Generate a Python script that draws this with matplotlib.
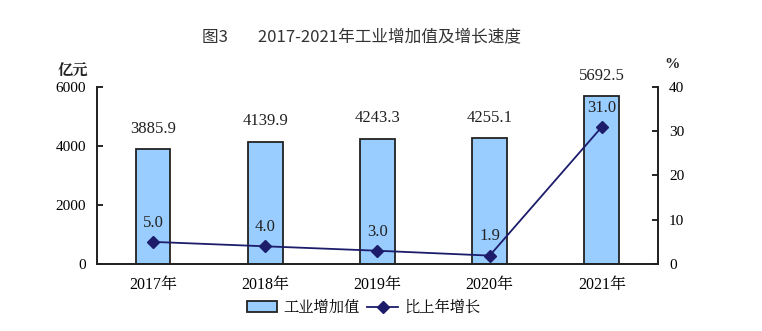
import matplotlib.pyplot as plt
from matplotlib.lines import Line2D
from matplotlib.patches import Patch

plt.rcParams['font.family'] = ['Liberation Serif', 'Noto Serif CJK SC', 'Noto Sans CJK SC', 'DejaVu Sans']

years = ["2017年", "2018年", "2019年", "2020年", "2021年"]
value_added = [3885.9, 4139.9, 4243.3, 4255.1, 5692.5]
growth = [5.0, 4.0, 3.0, 1.9, 31.0]

bar_color = "#99ccff"
line_color = "#1c1c6b"

fig = plt.figure(figsize=(7.62, 3.31), dpi=100)
ax = fig.add_axes([0.1273, 0.2024, 0.7362, 0.5348])
ax2 = ax.twinx()

x = list(range(len(years)))
ax.bar(x, value_added, width=0.31, color=bar_color, edgecolor="#222222", linewidth=1.3, zorder=2)
for i, v in enumerate(value_added):
    ax.annotate(f"{v:.1f}", (i, v), xytext=(0, 9), textcoords="offset points",
                ha="center", va="bottom", fontsize=12, color="#222222")

ax.set_xlim(-0.5, 4.5)
ax.set_ylim(0, 6000)
ax.set_yticks([0, 2000, 4000, 6000])
ax.set_xticks(x)
ax.set_xticklabels(years)
ax.tick_params(axis="y", direction="in", length=4, width=1.2, labelsize=11, pad=8)
ax.tick_params(axis="x", length=0, labelsize=11.5, pad=9)

ax2.plot(x, growth, color=line_color, marker="D", markersize=6, linewidth=1.3, zorder=3)
for i, v in enumerate(growth):
    ax2.annotate(f"{v:.1f}", (i, v), xytext=(0, 8), textcoords="offset points",
                 ha="center", va="bottom", fontsize=12, color="#222222")
ax2.set_ylim(0, 40)
ax2.set_yticks([0, 10, 20, 30, 40])
ax2.tick_params(axis="y", direction="in", length=4, width=1.2, labelsize=11, pad=8)

for a in (ax, ax2):
    a.spines["top"].set_visible(False)
    for s in ("left", "right", "bottom"):
        a.spines[s].set_linewidth(1.3)
        a.spines[s].set_color("#222222")

fig.text(0.095, 0.79, "亿元", fontsize=11, ha="center", va="center", color="#222222",
         family=['Noto Serif CJK SC', 'Noto Sans CJK SC'], weight="bold")
fig.text(0.882, 0.805, "%", fontsize=11, ha="center", va="center", color="#222222", weight="bold")

fig.text(0.475, 0.888, "图3        2017-2021年工业增加值及增长速度", fontsize=12, ha="center",
         va="center", color="#333333", family=['Noto Sans CJK SC', 'DejaVu Sans'])

handles = [Patch(facecolor=bar_color, edgecolor="#222222", linewidth=1.3),
           Line2D([0], [0], color=line_color, marker="D", markersize=6, linewidth=1.3)]
fig.legend(handles, ["工业增加值", "比上年增长"], loc="center", bbox_to_anchor=(0.477, 0.07),
           ncol=2, frameon=False, handlelength=2.0, columnspacing=0.5,
           handletextpad=0.4, prop={'family': ['Noto Serif CJK SC', 'Noto Sans CJK SC'], 'size': 11})

fig.savefig("out.png", dpi=100)
